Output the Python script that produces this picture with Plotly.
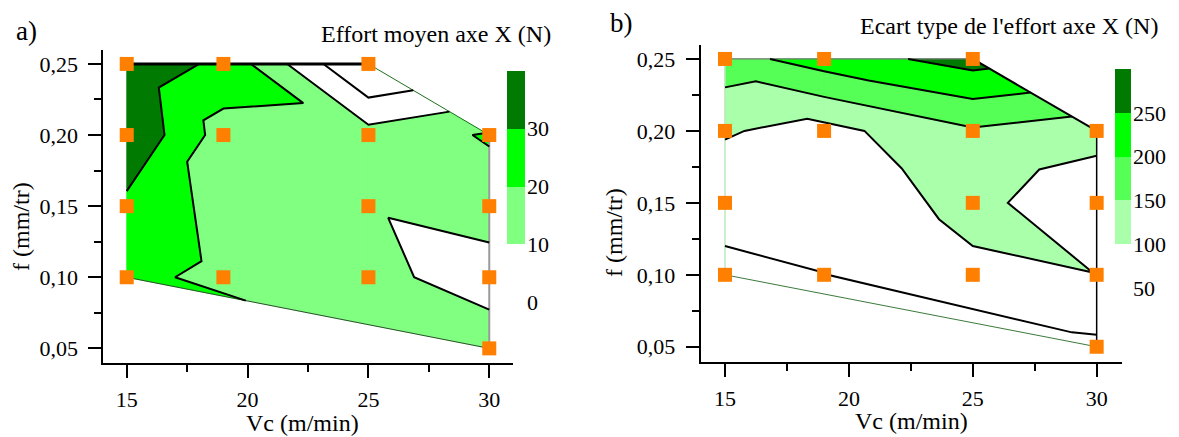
import plotly.graph_objects as go

# ---------------- data ----------------
vc = [15, 19, 25, 15, 19, 25, 30, 15, 25, 30, 15, 19, 25, 30, 30]
feed = [0.25, 0.25, 0.25, 0.20, 0.20, 0.20, 0.20, 0.15, 0.15, 0.15,
        0.10, 0.10, 0.10, 0.10, 0.05]
effort_moyen = [37.2, 27.6, -12.4, 39.3, 15.5, 13.8, 21.0, 27.5, 10.9, 14.8,
                22.2, 17.8, 12.8, 5.4, 15.5]
ecart_type = [180, 224, 270, 104, 83.6, 144, 120, 71, 115, 62,
              36, 49, 90, 99.5, 40]
# triangulation of the measurement points (indices into the arrays above)
triangles = [(0, 1, 4), (0, 3, 4), (1, 4, 5), (1, 2, 5), (2, 5, 6), (3, 4, 7),
             (4, 7, 11), (7, 10, 11), (10, 11, 14), (4, 5, 8), (4, 8, 11),
             (8, 11, 12), (5, 8, 9), (5, 6, 9), (8, 9, 13), (8, 12, 13),
             (11, 12, 14), (12, 13, 14)]
hull = [0, 1, 2, 6, 9, 13, 14, 10, 7, 3, 0]

levels_a = [0, 10, 20, 30, 40]
levels_b = [50, 100, 150, 200, 250, 300]
colors_a = ['#FFFFFF', '#80FF80', '#00FF00', '#007A00']
colors_b = ['#FFFFFF', '#AAFFAA', '#55FF55', '#00FF00', '#007A00']

x_ticks = [15, 20, 25, 30]
x_minor = [17.5, 22.5, 27.5]
y_ticks = [0.05, 0.10, 0.15, 0.20, 0.25]
y_ticktext = ['0,05', '0,10', '0,15', '0,20', '0,25']
y_minor = [0.075, 0.125, 0.175, 0.225]

FONT = 'Liberation Serif'
REF_W, REF_H = 1179, 437
W, H = 1179, 450


def px(xp):
    return xp / REF_W


def py(yp):
    return 1 - yp / REF_H


# ------------- triangle contouring helpers -------------
def clip(poly, level, above):
    out = []
    n = len(poly)
    for i in range(n):
        p, q = poly[i], poly[(i + 1) % n]
        pin = p[2] >= level if above else p[2] <= level
        qin = q[2] >= level if above else q[2] <= level
        if pin:
            out.append(p)
        if pin != qin:
            t = (level - p[2]) / (q[2] - p[2])
            out.append((p[0] + t * (q[0] - p[0]), p[1] + t * (q[1] - p[1]), level))
    return out


def band_polys(x, y, z, lo, hi):
    xs, ys = [], []
    for tri in triangles:
        poly = [(x[i], y[i], z[i]) for i in tri]
        poly = clip(poly, lo, True)
        if hi is not None and len(poly) >= 3:
            poly = clip(poly, hi, False)
        if len(poly) >= 3:
            xs += [p[0] for p in poly] + [poly[0][0], None]
            ys += [p[1] for p in poly] + [poly[0][1], None]
    return xs, ys


def contour_lines(x, y, z, level):
    segs = []
    for tri in triangles:
        pts = []
        for a, b in ((tri[0], tri[1]), (tri[1], tri[2]), (tri[2], tri[0])):
            za, zb = z[a] - level, z[b] - level
            if (za < 0) != (zb < 0):
                t = za / (za - zb)
                pts.append(((min(a, b), max(a, b)),
                            (x[a] + t * (x[b] - x[a]), y[a] + t * (y[b] - y[a]))))
        if len(pts) == 2:
            segs.append(pts)
    adj = {}
    for i, (p, q) in enumerate(segs):
        adj.setdefault(p[0], []).append(i)
        adj.setdefault(q[0], []).append(i)
    used = set()
    xs, ys = [], []
    starts = [k for k, v in adj.items() if len(v) == 1] + list(adj.keys())
    for k in starts:
        for si in adj[k]:
            if si in used:
                continue
            cur = k
            p, q = segs[si]
            line = [(p if p[0] == cur else q)[1]]
            s = si
            while s is not None:
                used.add(s)
                p, q = segs[s]
                other = q if p[0] == cur else p
                line.append(other[1])
                cur = other[0]
                nxt = [j for j in adj[cur] if j not in used]
                s = nxt[0] if nxt else None
            xs += [pt[0] for pt in line] + [None]
            ys += [pt[1] for pt in line] + [None]
    return xs, ys


fig = go.Figure()


def add_panel(z, levels, colors, xa, ya, edge_styles):
    # filled bands
    for i in range(1, len(colors)):
        hi = levels[i + 1] if i + 1 < len(levels) - 1 else None
        bx, by = band_polys(vc, feed, z, levels[i], hi)
        fig.add_trace(go.Scatter(x=bx, y=by, mode='lines', fill='toself',
                                 fillcolor=colors[i],
                                 line=dict(color=colors[i], width=0.8),
                                 xaxis=xa, yaxis=ya, hoverinfo='skip'))
    # boundary
    for (i0, i1, col, wd) in edge_styles:
        seg = hull[i0:i1 + 1]
        fig.add_trace(go.Scatter(x=[vc[k] for k in seg], y=[feed[k] for k in seg],
                                 mode='lines', line=dict(color=col, width=wd),
                                 xaxis=xa, yaxis=ya, hoverinfo='skip'))
    # contour lines
    lx, ly = [], []
    for lev in levels[:-1]:
        cx, cy = contour_lines(vc, feed, z, lev)
        lx += cx
        ly += cy
    fig.add_trace(go.Scatter(x=lx, y=ly, mode='lines',
                             line=dict(color='black', width=2),
                             xaxis=xa, yaxis=ya, hoverinfo='skip'))
    # measurement points
    fig.add_trace(go.Scatter(x=vc, y=feed, mode='markers',
                             marker=dict(symbol='square', size=14, color='#FF8000',
                                         line=dict(width=0)),
                             cliponaxis=False, xaxis=xa, yaxis=ya))


# hull index ranges: 0-2 top, 2-3 P3->P7, 3-6 right side, 6-7 bottom, 7-10 left
add_panel(effort_moyen, levels_a, colors_a, 'x', 'y',
          [(0, 2, 'black', 3), (2, 3, '#1E6E1E', 1), (3, 6, '#9A9A9A', 2),
           (6, 7, '#2F4F2F', 1)])
add_panel(ecart_type, levels_b, colors_b, 'x2', 'y2',
          [(0, 2, '#777777', 1.2), (2, 3, 'black', 2), (3, 6, 'black', 1.5),
           (6, 7, '#3A7A3A', 1), (7, 10, '#BDE8BD', 1.5)])

# colour scales
for lev, cols, xa, ya in ((levels_a, colors_a, 'x3', 'y3'),
                          (levels_b, colors_b, 'x4', 'y4')):
    fig.add_trace(go.Bar(x=[0] * (len(cols) - 1),
                         y=[lev[i + 1] - lev[i] for i in range(1, len(cols))],
                         base=[lev[i] for i in range(1, len(cols))],
                         marker=dict(color=cols[1:], line=dict(width=0)),
                         width=1, xaxis=xa, yaxis=ya, hoverinfo='skip'))


def tickfont():
    return dict(family=FONT, size=22, color='black')


def xaxis(dom, rng, anchor):
    return dict(domain=dom, range=rng, anchor=anchor, showgrid=False, zeroline=False,
                showline=True, linecolor='black', linewidth=2,
                tickmode='array', tickvals=x_ticks, ticks='outside', ticklen=13,
                tickwidth=2, tickcolor='black', tickfont=tickfont(),
                ticklabelstandoff=2,
                minor=dict(tickmode='array', tickvals=x_minor, ticks='outside',
                           ticklen=7, tickwidth=2, tickcolor='black', showgrid=False))


def yaxis(dom, rng, anchor):
    return dict(domain=dom, range=rng, anchor=anchor, showgrid=False, zeroline=False,
                showline=True, linecolor='black', linewidth=2,
                tickmode='array', tickvals=y_ticks, ticktext=y_ticktext,
                ticks='outside', ticklen=13, tickwidth=2, tickcolor='black',
                tickfont=tickfont(), ticklabelstandoff=6,
                minor=dict(tickmode='array', tickvals=y_minor, ticks='outside',
                           ticklen=7, tickwidth=2, tickcolor='black', showgrid=False))


def cbaxes(xdom, ydom, rng, ticks):
    xa = dict(domain=xdom, range=[-0.5, 0.5], visible=False, fixedrange=True)
    ya = dict(domain=ydom, range=rng, side='right', showgrid=False, zeroline=False,
              showline=False, ticks='', ticklen=0, tickmode='array', tickvals=ticks,
              tickfont=tickfont(), ticklabelstandoff=1)
    return xa, ya


x3, y3 = cbaxes([px(507), px(525)], [py(302), py(71)], [0, 40], levels_a[:-1])
x4, y4 = cbaxes([px(1115), px(1131)], [py(288), py(69)], [50, 300], levels_b[:-1])
y3['anchor'] = 'x3'
y4['anchor'] = 'x4'
x3['anchor'] = 'y3'
x4['anchor'] = 'y4'

ann_font = dict(family=FONT, size=24, color='black')
annotations = [
    dict(text='a)', x=px(14), y=py(31), xanchor='left', yanchor='middle',
         font=dict(family=FONT, size=27, color='black')),
    dict(text='Effort moyen axe X (N)', x=px(553), y=py(34), xanchor='right',
         yanchor='middle', font=ann_font),
    dict(text='b)', x=px(608), y=py(23), xanchor='left', yanchor='middle',
         font=dict(family=FONT, size=27, color='black')),
    dict(text="Ecart type de l'effort axe X (N)", x=px(1160), y=py(26),
         xanchor='right', yanchor='middle', font=ann_font),
    dict(text='f (mm/tr)', x=px(21), y=py(227), textangle=-90, xanchor='center',
         yanchor='middle', font=ann_font),
    dict(text='f (mm/tr)', x=px(614), y=py(233), textangle=-90, xanchor='center',
         yanchor='middle', font=ann_font),
    dict(text='Vc (m/min)', x=px(302), y=py(423), xanchor='center', yanchor='middle',
         font=ann_font),
    dict(text='Vc (m/min)', x=px(911), y=py(421), xanchor='center', yanchor='middle',
         font=ann_font),
]
for a in annotations:
    a.update(xref='paper', yref='paper', showarrow=False)

fig.update_layout(
    width=W, height=H, margin=dict(l=0, r=0, t=0, b=0),
    paper_bgcolor='white', plot_bgcolor='white', showlegend=False,
    bargap=0,
    font=dict(family=FONT, color='black', size=22),
    xaxis=xaxis([px(103.3), px(512.7)], [14.03, 30.97], 'y'),
    yaxis=yaxis([py(363.3), py(50)], [0.0395, 0.2598], 'x'),
    xaxis2=xaxis([px(700.7), px(1121.7)], [14.02, 31.01], 'y2'),
    yaxis2=yaxis([py(362.3), py(45)], [0.0392, 0.2597], 'x2'),
    xaxis3=x3, yaxis3=y3, xaxis4=x4, yaxis4=y4,
    annotations=annotations,
)

# remove the browser's default page margin so the figure fills the window exactly
fig.write_html('out.html', config={'displayModeBar': False},
               post_script="document.body.style.margin='0px';"
                           "document.body.style.overflow='hidden';")
